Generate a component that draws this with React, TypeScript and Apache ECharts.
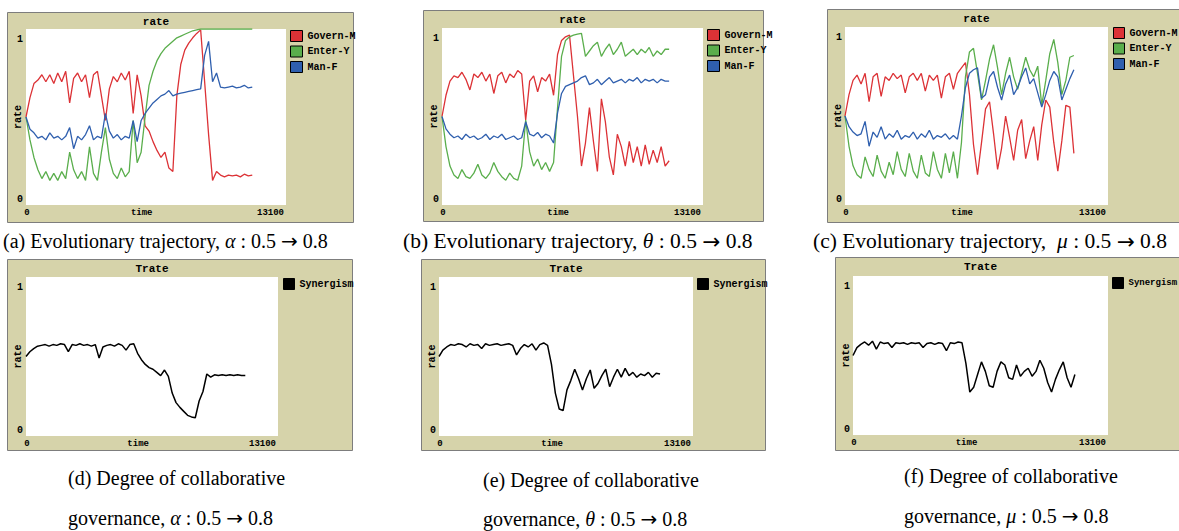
import React, { useEffect, useRef } from 'react';
import * as echarts from 'echarts';

// ---------- data ----------
const STEP = 200; // simulation ticks between samples
const T_MAX = 13100;
const Y_TICKS = ['1', '0'];
const X_TICKS = ['0', '13100'];

const RED_A = [0.50,0.61,0.69,0.71,0.74,0.70,0.74,0.69,0.75,0.70,
  0.76,0.58,0.72,0.75,0.70,0.74,0.61,0.74,0.76,0.62,
  0.48,0.66,0.73,0.70,0.75,0.71,0.76,0.52,0.74,0.62,
  0.45,0.42,0.36,0.31,0.27,0.30,0.21,0.19,0.62,0.80,
  0.88,0.92,0.95,0.975,0.995,0.70,0.40,0.14,0.19,0.17,
  0.16,0.17,0.165,0.17,0.16,0.175,0.165,0.17];
const GREEN_A = [0.50,0.37,0.27,0.20,0.15,0.19,0.14,0.18,0.14,0.19,
  0.15,0.30,0.20,0.15,0.19,0.14,0.33,0.18,0.14,0.30,
  0.44,0.26,0.18,0.15,0.21,0.16,0.19,0.48,0.24,0.30,
  0.50,0.68,0.76,0.82,0.86,0.89,0.91,0.93,0.95,0.96,
  0.97,0.98,0.99,0.995,1,1,1,1,1,1,
  1,1,1,1,1,1,1,1];
const BLUE_A = [0.50,0.43,0.41,0.38,0.39,0.37,0.41,0.38,0.39,0.37,
  0.39,0.44,0.32,0.39,0.37,0.40,0.45,0.37,0.39,0.38,
  0.52,0.42,0.38,0.40,0.37,0.39,0.38,0.48,0.36,0.48,
  0.52,0.55,0.58,0.60,0.62,0.63,0.65,0.62,0.63,0.635,
  0.64,0.645,0.65,0.655,0.66,0.85,0.93,0.70,0.75,0.67,
  0.665,0.67,0.675,0.665,0.67,0.68,0.665,0.67];

const RED_B = [0.50,0.62,0.70,0.73,0.72,0.75,0.71,0.65,0.74,0.72,
  0.75,0.70,0.74,0.63,0.73,0.75,0.69,0.74,0.72,0.76,
  0.74,0.48,0.70,0.73,0.64,0.72,0.70,0.74,0.62,0.85,
  0.93,0.95,0.96,0.73,0.50,0.22,0.35,0.55,0.36,0.19,
  0.60,0.47,0.27,0.17,0.40,0.33,0.22,0.36,0.24,0.33,
  0.22,0.34,0.23,0.31,0.24,0.33,0.22,0.25];
const GREEN_B = [0.50,0.33,0.22,0.17,0.15,0.20,0.16,0.15,0.18,0.23,
  0.17,0.15,0.18,0.24,0.19,0.16,0.14,0.18,0.15,0.14,
  0.22,0.48,0.30,0.22,0.26,0.20,0.24,0.19,0.24,0.55,
  0.84,0.93,0.95,0.96,0.965,0.97,0.84,0.87,0.90,0.92,
  0.84,0.88,0.91,0.85,0.88,0.92,0.84,0.86,0.88,0.85,
  0.88,0.86,0.89,0.84,0.87,0.85,0.88,0.88];
const BLUE_B = [0.50,0.43,0.40,0.38,0.39,0.37,0.40,0.38,0.39,0.37,
  0.38,0.40,0.37,0.39,0.38,0.40,0.37,0.38,0.39,0.37,
  0.38,0.47,0.40,0.39,0.41,0.38,0.40,0.39,0.35,0.52,
  0.63,0.67,0.68,0.69,0.70,0.72,0.73,0.68,0.69,0.71,
  0.68,0.70,0.72,0.69,0.70,0.71,0.69,0.71,0.70,0.72,
  0.69,0.71,0.70,0.71,0.69,0.71,0.70,0.70];

const RED_C = [0.50,0.62,0.70,0.73,0.68,0.74,0.58,0.72,0.74,0.61,
  0.72,0.70,0.74,0.71,0.73,0.63,0.72,0.74,0.70,0.74,
  0.64,0.73,0.70,0.73,0.60,0.72,0.74,0.65,0.74,0.77,
  0.80,0.62,0.34,0.17,0.35,0.54,0.58,0.40,0.20,0.32,
  0.50,0.38,0.25,0.42,0.48,0.26,0.36,0.44,0.25,0.45,
  0.59,0.55,0.35,0.19,0.36,0.56,0.55,0.29];
const GREEN_C = [0.50,0.33,0.22,0.17,0.15,0.27,0.20,0.16,0.28,0.19,
  0.15,0.24,0.17,0.30,0.20,0.16,0.29,0.19,0.15,0.28,
  0.18,0.16,0.30,0.20,0.15,0.29,0.18,0.30,0.15,0.35,
  0.72,0.86,0.88,0.74,0.59,0.70,0.82,0.90,0.77,0.62,
  0.74,0.83,0.72,0.65,0.74,0.83,0.76,0.72,0.78,0.56,
  0.70,0.85,0.93,0.80,0.62,0.70,0.83,0.84];
const BLUE_C = [0.50,0.44,0.41,0.39,0.40,0.47,0.33,0.41,0.38,0.44,
  0.37,0.40,0.38,0.42,0.37,0.39,0.38,0.41,0.37,0.40,
  0.38,0.42,0.37,0.39,0.38,0.40,0.37,0.39,0.37,0.50,
  0.66,0.74,0.76,0.77,0.60,0.62,0.72,0.75,0.66,0.59,
  0.68,0.73,0.62,0.66,0.72,0.77,0.68,0.71,0.63,0.55,
  0.62,0.70,0.75,0.72,0.59,0.65,0.71,0.76];

const SYN_D = [0.50,0.53,0.55,0.565,0.57,0.575,0.565,0.575,0.57,0.58,
  0.575,0.53,0.575,0.57,0.58,0.57,0.575,0.565,0.575,0.49,
  0.56,0.57,0.575,0.565,0.58,0.57,0.54,0.575,0.58,0.52,
  0.48,0.45,0.43,0.42,0.40,0.38,0.415,0.375,0.27,0.21,
  0.18,0.155,0.13,0.12,0.115,0.22,0.28,0.39,0.37,0.385,
  0.38,0.385,0.38,0.385,0.38,0.385,0.38,0.38];
const SYN_E = [0.50,0.54,0.56,0.575,0.57,0.58,0.575,0.56,0.58,0.57,
  0.575,0.55,0.58,0.57,0.575,0.58,0.57,0.575,0.58,0.57,
  0.51,0.55,0.575,0.56,0.58,0.54,0.575,0.585,0.57,0.45,
  0.27,0.17,0.16,0.29,0.35,0.42,0.36,0.29,0.36,0.415,
  0.30,0.33,0.38,0.42,0.31,0.37,0.42,0.37,0.425,0.38,
  0.40,0.37,0.39,0.38,0.40,0.37,0.395,0.39];
const SYN_F = [0.50,0.55,0.57,0.585,0.565,0.59,0.54,0.585,0.575,0.58,
  0.55,0.58,0.575,0.58,0.57,0.58,0.575,0.58,0.55,0.575,
  0.58,0.57,0.58,0.575,0.53,0.58,0.575,0.585,0.58,0.45,
  0.27,0.30,0.38,0.46,0.40,0.31,0.30,0.40,0.46,0.44,
  0.36,0.35,0.44,0.37,0.40,0.42,0.37,0.40,0.47,0.42,
  0.33,0.27,0.35,0.41,0.46,0.36,0.30,0.38];

const TOP_NAMES = ['Govern-M', 'Enter-Y', 'Man-F'];
const BOTTOM_NAMES = ['Synergism'];
const TOP_DATA = [[RED_A, GREEN_A, BLUE_A], [RED_B, GREEN_B, BLUE_B], [RED_C, GREEN_C, BLUE_C]];
const BOTTOM_DATA = [SYN_D, SYN_E, SYN_F];
const CAPTION_SYMBOLS = ['α', 'θ', 'μ'];

// ---------- layout / style ----------
const COLORS = ['#dc3236', '#5aae4c', '#2f5fae'];
const BG = '#d6d3aa';
const MONO = '"Liberation Mono", "DejaVu Sans Mono", monospace';
const SERIF = '"Liberation Serif", "DejaVu Serif", serif';

type Panel = { frame: number[]; grid: number[]; legend: number[]; title: string; legendSize: number; iconW: number };
const PANELS: Panel[] = [
  { frame: [7, 12, 346, 210], grid: [26, 29, 260, 176], legend: [290, 30], title: 'rate', legendSize: 10, iconW: 12 },
  { frame: [423, 10, 340, 211], grid: [442, 28, 261, 177], legend: [707, 29], title: 'rate', legendSize: 10, iconW: 12 },
  { frame: [827, 9, 352, 213], grid: [845, 27, 263, 178], legend: [1113, 27], title: 'rate', legendSize: 10, iconW: 11 },
  { frame: [7, 259, 345, 191], grid: [26, 277, 252, 159], legend: [283, 278], title: 'Trate', legendSize: 10, iconW: 11 },
  { frame: [421, 259, 344, 191], grid: [439, 277, 254, 159], legend: [697, 278], title: 'Trate', legendSize: 10, iconW: 11 },
  { frame: [835, 257, 344, 193], grid: [853, 276, 255, 159], legend: [1112, 277], title: 'Trate', legendSize: 9, iconW: 11 },
];

function monoText(x: number, y: number, text: string, align: string, size = 10, extra: any = {}) {
  return {
    type: 'text', x, y, z: 20, ...extra,
    style: {
      text, fill: '#000', fontFamily: MONO, fontWeight: 'bold', fontSize: size,
      align, textAlign: align, verticalAlign: 'middle', textVerticalAlign: 'middle',
    },
  };
}

function caption(x: number, y: number, pre: string, sym: string, mid: string, arrow: string, post: string, size = 20) {
  const text = sym ? `${pre}{s|${sym}}${mid}{a|${arrow}}${post}` : pre;
  return {
    type: 'text', x, y, z: 20,
    style: {
      text,
      fill: '#000', fontFamily: SERIF, fontSize: size, lineHeight: size,
      align: 'left', textAlign: 'left', verticalAlign: 'middle', textVerticalAlign: 'middle',
      rich: {
        s: { fontFamily: SERIF, fontSize: size, lineHeight: size, fontStyle: 'italic', fill: '#000' },
        a: { fontFamily: '"DejaVu Sans", sans-serif', fontSize: size, lineHeight: size, fill: '#000' },
      },
    },
  };
}

function buildOption() {
  const graphic: any[] = [];
  PANELS.forEach((p) => {
    const [fx, fy, fw, fh] = p.frame;
    const [gx, gy, gw, gh] = p.grid;
    graphic.push({ type: 'rect', z: -10, shape: { x: fx + 0.5, y: fy + 0.5, width: fw, height: fh }, style: { fill: BG, stroke: '#7d7d7d', lineWidth: 1 } });
    graphic.push({ type: 'rect', z: -9, shape: { x: gx, y: gy, width: gw, height: gh }, style: { fill: '#ffffff' } });
    graphic.push(monoText(gx + gw / 2, fy + 9.5, p.title, 'center', 11));
    graphic.push(monoText(fx + 11, gy + gh / 2, 'rate', 'center', 10, { rotation: Math.PI / 2 }));
    graphic.push(monoText(gx - 6, gy + 10, Y_TICKS[0], 'center', 10));
    graphic.push(monoText(gx - 6, gy + gh - 6, Y_TICKS[1], 'center', 10));
    graphic.push(monoText(gx + 1, gy + gh + 8, X_TICKS[0], 'center', 9));
    graphic.push(monoText(gx + gw - 2, gy + gh + 8, X_TICKS[1], 'right', 9));
    graphic.push(monoText(gx + gw * 0.445, gy + gh + 8, 'time', 'center', 9));
  });

  graphic.push(caption(3, 241, '(a) Evolutionary trajectory, ', CAPTION_SYMBOLS[0], ' : 0.5 ', '→', ' 0.8', 20));
  graphic.push(caption(403, 241, '(b) Evolutionary trajectory, ', CAPTION_SYMBOLS[1], ' : 0.5 ', '→', ' 0.8', 21.5));
  graphic.push(caption(813, 241, '(c) Evolutionary trajectory,  ', CAPTION_SYMBOLS[2], ' : 0.5 ', '→', ' 0.8', 21.5));
  graphic.push(caption(68, 478, '(d) Degree of collaborative', '', '', '', ''));
  graphic.push(caption(68, 518, 'governance, ', CAPTION_SYMBOLS[0], ' : 0.5 ', '→', ' 0.8'));
  graphic.push(caption(483, 480, '(e) Degree of collaborative', '', '', '', ''));
  graphic.push(caption(483, 519, 'governance, ', CAPTION_SYMBOLS[1], ' : 0.5 ', '→', ' 0.8'));
  graphic.push(caption(904, 476, '(f) Degree of collaborative', '', '', '', ''));
  graphic.push(caption(904, 516, 'governance, ', CAPTION_SYMBOLS[2], ' : 0.5 ', '→', ' 0.8'));

  const grid = PANELS.map((p) => ({ left: p.grid[0], top: p.grid[1], width: p.grid[2], height: p.grid[3], show: false }));
  const xAxis = PANELS.map((_, i) => ({ gridIndex: i, type: 'value', min: 0, max: T_MAX, show: false }));
  const yAxis = PANELS.map((_, i) => ({ gridIndex: i, type: 'value', min: 0, max: 1, show: false }));

  const toPairs = (arr: number[]) => arr.map((v, i) => [i * STEP, v]);
  const series: any[] = [];
  TOP_DATA.forEach((set, pi) => {
    set.forEach((arr, si) => {
      series.push({
        type: 'line', name: TOP_NAMES[si], xAxisIndex: pi, yAxisIndex: pi,
        data: toPairs(arr), showSymbol: false, symbol: 'none', silent: true,
        color: COLORS[si], itemStyle: { color: COLORS[si] },
        lineStyle: { color: COLORS[si], width: 1.3 },
      });
    });
  });
  BOTTOM_DATA.forEach((arr, bi) => {
    series.push({
      type: 'line', name: BOTTOM_NAMES[0], xAxisIndex: 3 + bi, yAxisIndex: 3 + bi,
      data: toPairs(arr), showSymbol: false, symbol: 'none', silent: true,
      color: '#000', itemStyle: { color: '#000' },
      lineStyle: { color: '#000', width: 1.5 },
    });
  });

  const legend = PANELS.map((p, i) => ({
    left: p.legend[0], top: p.legend[1], orient: 'vertical', padding: 0,
    itemGap: 3.5, itemWidth: p.iconW, itemHeight: 11, icon: 'rect', selectedMode: false,
    data: i < 3 ? TOP_NAMES : BOTTOM_NAMES,
    itemStyle: { borderColor: '#000', borderWidth: 1 },
    textStyle: { color: '#000', fontFamily: MONO, fontWeight: 'bold', fontSize: p.legendSize },
  }));

  return { animation: false, backgroundColor: '#ffffff', grid, xAxis, yAxis, series, legend, graphic };
}

export default function App() {
  const ref = useRef<HTMLDivElement>(null);
  useEffect(() => {
    const chart = echarts.init(ref.current!, null, { renderer: 'svg', width: 1179, height: 531 });
    chart.setOption(buildOption() as any);
    return () => chart.dispose();
  }, []);
  return (
    <div
      ref={ref}
      style={{ position: 'absolute', left: 0, top: 0, width: 1179, height: 531, background: '#fff' }}
    />
  );
}
